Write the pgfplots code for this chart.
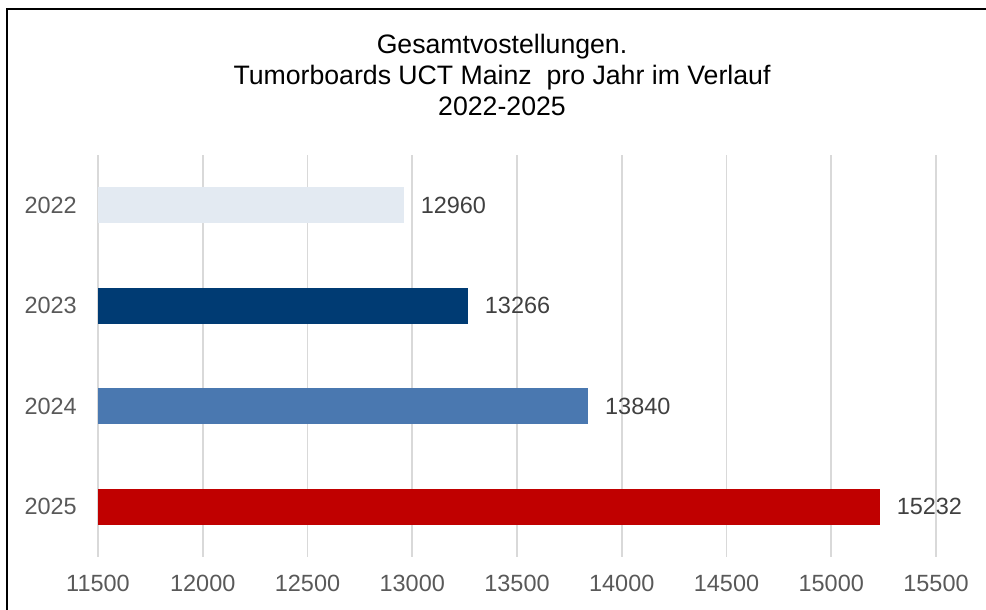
\documentclass[border=0pt]{standalone}
\usepackage{pgfplots}
\pgfplotsset{compat=1.18}
\usepackage{fontspec}
\setmainfont{Liberation Sans}
\definecolor{c22}{HTML}{E3EAF2}
\definecolor{c23}{HTML}{003B73}
\definecolor{c24}{HTML}{4A78B0}
\definecolor{c25}{HTML}{C00000}
\definecolor{gridc}{HTML}{D9D9D9}
\definecolor{tickc}{HTML}{595959}
\definecolor{labc}{HTML}{404040}
\begin{document}
\begin{tikzpicture}
\path[use as bounding box] (0pt,0pt) rectangle (739.5pt,-457.5pt);
\clip (0pt,0pt) rectangle (739.5pt,-457.5pt);
\draw[line width=1.5pt,black] (5.25pt,-470pt) -- (5.25pt,-6.75pt) -- (750pt,-6.75pt);
\node[anchor=base,font=\fontsize{20}{24}\selectfont] at (376.5pt,-40.5pt) {Gesamtvostellungen.};
\node[anchor=base,font=\fontsize{20}{24}\selectfont] at (376.5pt,-63.75pt) {Tumorboards UCT Mainz \ pro Jahr im Verlauf};
\node[anchor=base,font=\fontsize{20}{24}\selectfont] at (376.5pt,-87pt) {2022-2025};
\begin{axis}[
  at={(73.5pt,-116.25pt)}, anchor=north west,
  scale only axis, width=628.5pt, height=301.5pt,
  xmin=11500, xmax=15500, ymin=-0.5, ymax=3.5, y dir=reverse,
  enlargelimits=false,
  xtick={11500,12000,...,15500},
  ytick={0,1,2,3}, yticklabels={2022,2023,2024,2025},
  scaled x ticks=false,
  /pgf/number format/set thousands separator={},
  /pgf/number format/assume math mode=true,
  xmajorgrids, grid style={gridc,line width=1.3pt},
  axis line style={draw=none}, tick style={draw=none},
  major tick length=0pt,
  ticklabel style={font=\fontsize{17.6}{20}\selectfont, text=tickc, inner sep=0pt},
  xticklabel style={anchor=north, yshift=-13.5pt},
  yticklabel style={anchor=east, xshift=-15.75pt},
  xbar, bar width=27pt, bar shift=0pt,
  nodes near coords,
  nodes near coords style={anchor=west, inner sep=0pt, xshift=12.5pt, font=\fontsize{17.6}{20}\selectfont, text=labc, /pgf/number format/assume math mode=true},
  point meta=explicit,
]
\addplot[draw=none, fill=c22] coordinates {(12960,0) [12960]};
\addplot[draw=none, fill=c23] coordinates {(13266,1) [13266]};
\addplot[draw=none, fill=c24] coordinates {(13840,2) [13840]};
\addplot[draw=none, fill=c25] coordinates {(15232,3) [15232]};
\end{axis}
\end{tikzpicture}
\end{document}
